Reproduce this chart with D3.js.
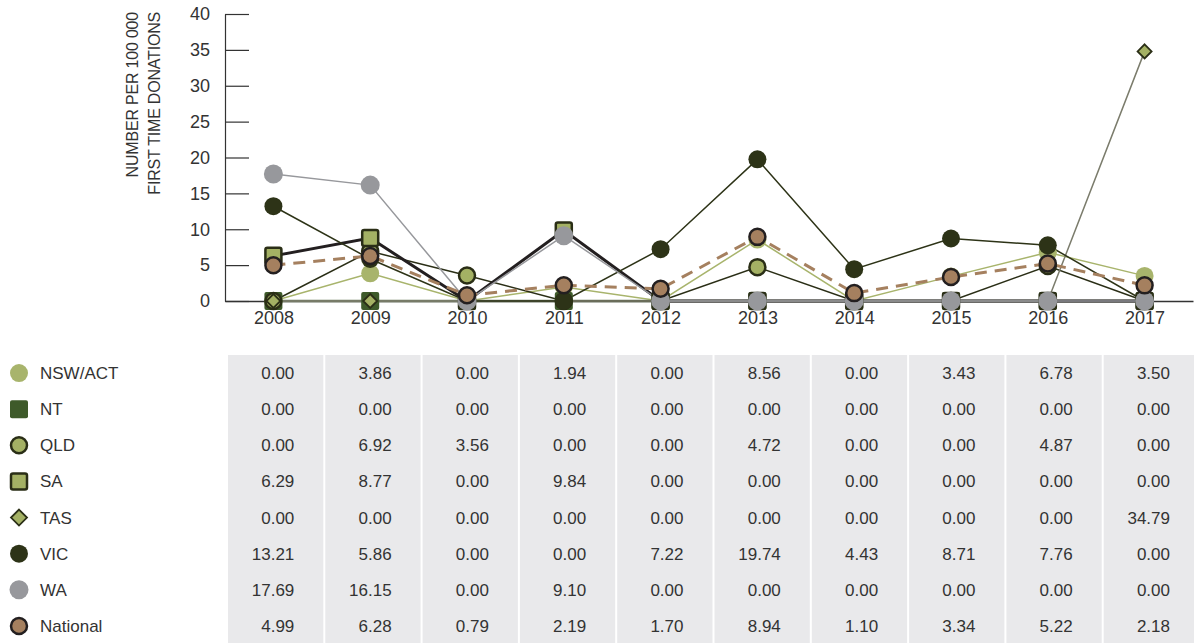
<!DOCTYPE html>
<html>
<head>
<meta charset="utf-8">
<script src="https://cdn.jsdelivr.net/npm/d3@7"></script>
<style>
  body { margin: 0; background: #fff; }
  svg { display: block; font-family: "Liberation Sans", Arial, sans-serif; }
</style>
</head>
<body>
<svg id="chart" width="1194" height="643"></svg>
<script>
var years = [2008, 2009, 2010, 2011, 2012, 2013, 2014, 2015, 2016, 2017];
var yTicks = [0, 5, 10, 15, 20, 25, 30, 35, 40];

var nswAct   = [0.00, 3.86, 0.00, 1.94, 0.00, 8.56, 0.00, 3.43, 6.78, 3.50];
var nt       = [0.00, 0.00, 0.00, 0.00, 0.00, 0.00, 0.00, 0.00, 0.00, 0.00];
var qld      = [0.00, 6.92, 3.56, 0.00, 0.00, 4.72, 0.00, 0.00, 4.87, 0.00];
var sa       = [6.29, 8.77, 0.00, 9.84, 0.00, 0.00, 0.00, 0.00, 0.00, 0.00];
var tas      = [0.00, 0.00, 0.00, 0.00, 0.00, 0.00, 0.00, 0.00, 0.00, 34.79];
var vic      = [13.21, 5.86, 0.00, 0.00, 7.22, 19.74, 4.43, 8.71, 7.76, 0.00];
var wa       = [17.69, 16.15, 0.00, 9.10, 0.00, 0.00, 0.00, 0.00, 0.00, 0.00];
var national = [4.99, 6.28, 0.79, 2.19, 1.70, 8.94, 1.10, 3.34, 5.22, 2.18];

var seriesNames = ["NSW/ACT", "NT", "QLD", "SA", "TAS", "VIC", "WA", "National"];
var titleLines = ["NUMBER PER 100 000", "FIRST TIME DONATIONS"];

// styles per series (kept apart from the values)
var styles = {
  "NSW/ACT":  {values: nswAct,   shape: "circle",  fill: "#a8b46c", stroke: "none",    sw: 0,   line: "#a8b46c", lw: 1.5, r: 9},
  "NT":       {values: nt,       shape: "square",  fill: "#3e5a2a", stroke: "none",    sw: 0,   line: "#6e7b5d", lw: 2.5, r: 9},
  "QLD":      {values: qld,      shape: "circle",  fill: "#a4b164", stroke: "#2a2e16", sw: 2.5, line: "#2a2e16", lw: 1.5, r: 8},
  "SA":       {values: sa,       shape: "square",  fill: "#a4b164", stroke: "#2a2e16", sw: 2.5, line: "#231f20", lw: 3,   r: 8},
  "TAS":      {values: tas,      shape: "diamond", fill: "#a4b164", stroke: "#2a2e16", sw: 1.8, line: "#7b7c6c", lw: 1.5, r: 7},
  "VIC":      {values: vic,      shape: "circle",  fill: "#2d3317", stroke: "none",    sw: 0,   line: "#2d3317", lw: 1.5, r: 9},
  "WA":       {values: wa,       shape: "circle",  fill: "#97989c", stroke: "none",    sw: 0,   line: "#97989c", lw: 1.5, r: 9.5},
  "National": {values: national, shape: "circle",  fill: "#a5805f", stroke: "#231f20", sw: 2.5, line: "#a5805f", lw: 3,   r: 8, dash: "12,8"}
};

var svg = d3.select("#chart");

var x = d3.scalePoint().domain(years).range([225, 1193]).padding(0.5);
var y = d3.scaleLinear().domain([0, 40]).range([301, 14]);

//-------------------
// axes
//-------------------
var yAxis = svg.append("g")
  .attr("transform", "translate(225,0)")
  .call(d3.axisLeft(y).tickValues(yTicks).tickSizeInner(-24).tickSizeOuter(0).tickPadding(15));
yAxis.selectAll("line").attr("stroke", "#333").attr("stroke-width", 1.2);
yAxis.select(".domain").attr("stroke", "#333").attr("stroke-width", 1.2);
yAxis.selectAll("text").attr("font-size", 18).attr("fill", "#333")
  .attr("font-family", "Liberation Sans, Arial, sans-serif");

var xAxis = svg.append("g")
  .attr("transform", "translate(0,301)")
  .call(d3.axisBottom(x).tickSize(0).tickPadding(10).tickSizeOuter(0));
xAxis.select(".domain").attr("stroke", "#333").attr("stroke-width", 1.5);
xAxis.selectAll("text").attr("font-size", 18).attr("fill", "#333")
  .attr("font-family", "Liberation Sans, Arial, sans-serif");

// y axis title, two rotated lines, ending at the top
svg.selectAll(".ytitle")
  .data(titleLines)
  .enter().append("text")
  .attr("class", "ytitle")
  .attr("transform", function(d, i) { return "translate(" + (138 + i * 22) + ",12) rotate(-90)"; })
  .attr("text-anchor", "end")
  .attr("font-size", 16)
  .attr("letter-spacing", -0.2)
  .attr("fill", "#333")
  .text(function(d) { return d; });

//-------------------
// lines
//-------------------
var line = d3.line()
  .x(function(d, i) { return x(years[i]); })
  .y(function(d) { return y(d); });

svg.append("g").selectAll("path")
  .data(seriesNames)
  .enter().append("path")
  .attr("d", function(n) { return line(styles[n].values); })
  .attr("fill", "none")
  .attr("stroke", function(n) { return styles[n].line; })
  .attr("stroke-width", function(n) { return styles[n].lw; })
  .attr("stroke-dasharray", function(n) { return styles[n].dash || null; });

//-------------------
// markers
//-------------------
function drawMarker(g, s, cx, cy) {
  var m;
  if (s.shape == "circle") {
    m = g.append("circle").attr("cx", cx).attr("cy", cy).attr("r", s.r);
  } else if (s.shape == "square") {
    m = g.append("rect").attr("x", cx - s.r).attr("y", cy - s.r)
      .attr("width", s.r * 2).attr("height", s.r * 2).attr("rx", 2);
  } else {
    m = g.append("path")
      .attr("d", "M" + cx + "," + (cy - s.r) + "L" + (cx + s.r) + "," + cy +
                 "L" + cx + "," + (cy + s.r) + "L" + (cx - s.r) + "," + cy + "Z");
  }
  m.attr("fill", s.fill).attr("stroke", s.stroke).attr("stroke-width", s.sw);
}

var markers = svg.append("g");
seriesNames.forEach(function(n) {
  var s = styles[n];
  var g = markers.append("g");
  s.values.forEach(function(v, i) {
    drawMarker(g, s, x(years[i]), y(v));
  });
});

//-------------------
// table
//-------------------
var col = d3.scaleBand().domain(years).range([227, 1200]);
var row = d3.scaleBand().domain(seriesNames).range([355, 644]);

svg.append("g").selectAll("rect")
  .data(years)
  .enter().append("rect")
  .attr("x", function(d) { return col(d) + 1; })
  .attr("y", 355)
  .attr("width", col.bandwidth() - 2)
  .attr("height", 289)
  .attr("fill", "#e9e9eb");

var legend = svg.append("g");
seriesNames.forEach(function(n) {
  var s = styles[n];
  var cy = row(n) + row.bandwidth() / 2;
  var ls = Object.assign({}, s);
  if (n == "TAS") ls.r = 8;
  drawMarker(legend, ls, 19, cy);
  legend.append("text")
    .attr("x", 40).attr("y", cy + 6)
    .attr("font-size", 17).attr("fill", "#333")
    .text(n);

  legend.selectAll(null)
    .data(s.values)
    .enter().append("text")
    .attr("x", function(d, i) { return col(years[i]) + col.bandwidth() - 30; })
    .attr("y", cy + 6)
    .attr("text-anchor", "end")
    .attr("font-size", 17).attr("fill", "#333")
    .text(function(d) { return d.toFixed(2); });
});
</script>
</body>
</html>
